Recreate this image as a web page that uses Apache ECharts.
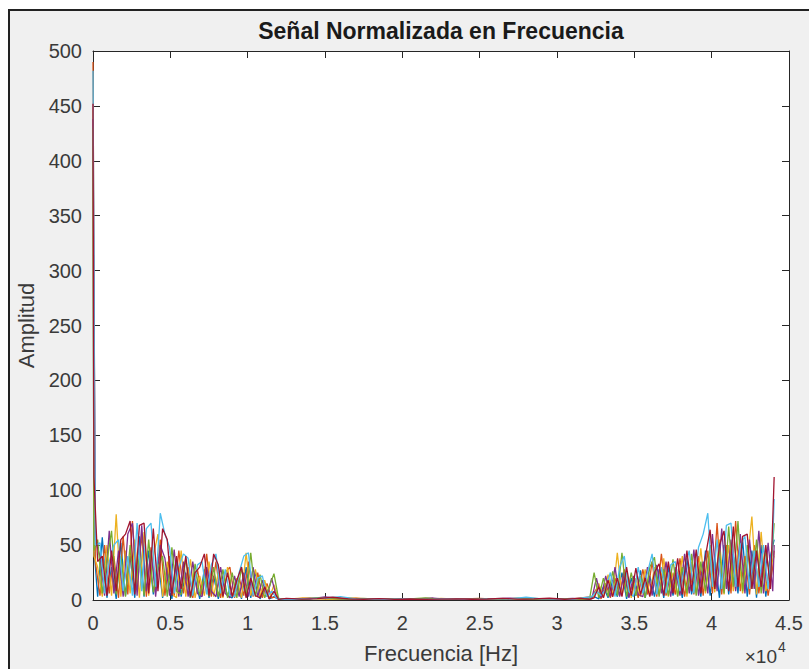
<!DOCTYPE html>
<html>
<head>
<meta charset="utf-8">
<script src="https://cdn.jsdelivr.net/npm/echarts@6/dist/echarts.min.js"></script>
<style>
  html, body { margin: 0; padding: 0; background: #ffffff; }
  #frame { position: absolute; left: 8px; top: 9px; width: 801px; height: 660px; background: #f0f0f0;
           border-top: 2px solid #222; border-left: 2px solid #222; box-sizing: border-box; }
  #chart { position: absolute; left: 0; top: 0; width: 809px; height: 669px; }
</style>
</head>
<body>
<div id="frame"></div>
<div id="chart"></div>
<script>
// ---------- DATA ----------
const titleText = 'Señal Normalizada en Frecuencia';
const xName = 'Frecuencia [Hz]';
const yName = 'Amplitud';
const xTicks = [0, 5000, 10000, 15000, 20000, 25000, 30000, 35000, 40000, 45000];
const yTicks = [0, 50, 100, 150, 200, 250, 300, 350, 400, 450, 500];

// frequency samples (Hz) for two interleaved sample grids
const freqLA = [0,60,300,600,900,1200,1500,1800,2100,2400,2700,3000,3300,3600,3900,4200,4500,4800,5100,5400,5700,6000,6300,6600,6900,7200,7500,7800,8100,8400,8700,9000,9300,9600,9900,10200,10500,10800,11100,11400,11700,12000];
const freqMA = [12500,13500,14500,15500,16500,17500,18500,19500,20500,21500,22500,23500,24500,25500,26500,27500,28500,29500,30500,31500];
const freqRA = [32100,32400,32700,33000,33300,33600,33900,34200,34500,34800,35100,35400,35700,36000,36300,36600,36900,37200,37500,37800,38100,38400,38700,39000,39300,39600,39900,40200,40500,40800,41100,41400,41700,42000,42300,42600,42900,43200,43500,43800,44040];
const freqLB = [0,150,450,750,1050,1350,1650,1950,2250,2550,2850,3150,3450,3750,4050,4350,4650,4950,5250,5550,5850,6150,6450,6750,7050,7350,7650,7950,8250,8550,8850,9150,9450,9750,10050,10350,10650,10950,11250,11550,11850,12150];
const freqMB = [13000,14000,15000,16000,17000,18000,19000,20000,21000,22000,23000,24000,25000,26000,27000,28000,29000,30000,31000];
const freqRB = [32250,32550,32850,33150,33450,33750,34050,34350,34650,34950,35250,35550,35850,36150,36450,36750,37050,37350,37650,37950,38250,38550,38850,39150,39450,39750,40050,40350,40650,40950,41250,41550,41850,42150,42450,42750,43050,43350,43650,43950,44040];

// series 1 (grid A)
const s1L = [420,48,3,57,2,30,1,52,4,40,2,58,3,45,5,38,2,30,1,36,3,25,2,20,1,28,2,22,1,18,4,2,15,1,30,2,26,1,10,1,3,0.5];
const s1M = [1.2,0.6,1.5,0.8,1,0.5,0.9,1.3,0.6,0.8,0.5,0.7,1,0.6,0.9,1.1,0.7,1,0.8,1.2];
const s1R = [1,3,1,12,2,18,3,25,1,20,4,27,2,22,3,28,2,30,4,25,2,38,5,30,3,45,4,40,2,50,5,42,6,55,3,45,2,50,3,40,55];
// series 2 (grid B)
const s2L = [490,35,4,50,6,40,2,58,5,72,10,60,3,48,8,55,4,40,3,45,6,30,2,28,4,42,3,35,2,25,30,2,20,4,35,3,25,2,15,2,3,0.5];
const s2M = [0.9,2,1,0.8,1.6,0.7,1,0.6,1.2,0.8,0.5,1,1.5,0.7,0.9,1.3,0.8,1.1,1];
const s2R = [3,10,1,15,2,20,4,28,3,18,2,28,5,35,3,42,4,25,5,38,3,30,5,40,4,45,6,70,5,50,6,72,8,40,5,50,6,35,4,30,45];
// series 3 (grid A)
const s3L = [446,40,30,3,50,4,78,3,45,6,55,2,62,4,40,60,3,35,6,2,45,3,37,2,22,4,35,3,25,2,30,3,20,2,43,4,28,3,18,1,14,0.5];
const s3M = [0.8,1.8,1,0.6,2.2,0.9,0.5,1,0.7,0.6,1.5,0.8,0.6,1,0.7,0.9,1.4,0.8,1.1,0.7];
const s3R = [0.5,3,15,2,23,3,43,4,25,2,20,3,28,4,30,5,38,3,25,4,40,3,35,6,47,6,40,7,55,5,50,8,45,6,35,76,5,62,8,30,40];
// series 4 (grid B)
const s4L = [438,55,40,4,63,6,45,3,60,70,4,68,8,45,3,50,38,4,46,3,35,3,35,6,3,30,8,3,30,6,2,22,3,25,3,30,3,18,3,20,3,0.5];
const s4M = [1.2,1,2.8,1.4,0.9,1.2,0.8,0.7,0.9,1.8,0.6,0.8,1,1.3,1.7,0.9,1.2,0.7,1.5];
const s4R = [1,20,2,22,3,30,3,25,2,22,5,3,30,4,32,6,35,3,30,4,42,6,46,4,35,6,60,8,65,10,55,8,60,6,55,10,63,6,52,8,50];
// series 5 (grid A)
const s5L = [430,45,55,6,35,63,5,40,3,50,8,40,4,55,7,30,40,3,48,8,5,38,2,33,4,22,3,30,3,28,2,25,2,30,3,43,3,23,2,12,24,1];
const s5M = [1,0.7,2,1.2,0.8,1.5,0.6,0.8,1,2,0.6,0.5,0.8,1.2,0.7,1.6,0.9,0.6,1.3,0.9];
const s5R = [0.5,25,2,20,3,26,4,43,3,25,4,22,2,30,39,3,28,4,37,3,30,6,42,4,35,8,50,10,45,6,67,12,72,8,50,10,55,6,45,20,70];
// series 6 (grid B)
const s6L = [482,50,52,6,35,50,55,8,40,4,70,8,65,70,12,79,60,48,6,30,42,38,4,32,35,5,32,42,6,28,4,3,25,40,43,4,20,22,3,8,2,0.5];
const s6M = [0.7,1.4,1.6,3,1,0.8,0.6,0.9,0.5,0.7,1,0.6,0.8,1.2,0.9,2.5,1,0.8,0.6];
const s6R = [3,8,4,10,25,3,30,40,8,3,30,6,25,42,5,30,6,32,35,8,30,45,6,48,60,79,12,55,10,68,70,12,50,58,10,45,12,50,10,55,92];
// series 7 (grid A)
const s7L = [452,112,35,40,4,45,8,55,60,72,5,68,70,6,65,8,65,55,4,40,10,40,3,25,30,42,4,42,32,3,25,3,18,30,2,20,4,2,12,1,8,0.5];
const s7M = [1.5,0.8,1.2,2.5,1,0.7,1.3,0.6,0.9,0.5,0.8,1.1,0.7,0.9,1.4,0.8,1,1.6,0.7,1.4];
const s7R = [0.5,2,12,2,18,3,20,3,30,4,29,5,20,3,25,33,4,35,6,38,5,45,8,46,6,40,64,10,50,63,8,67,12,58,60,10,45,12,50,10,112];

// ---------- BUILD ----------
const colors = ['#0072BD','#D95319','#EDB120','#7E2F8E','#77AC30','#4DBEEE','#A2142F'];
const gridA = freqLA.concat(freqMA, freqRA);
const gridB = freqLB.concat(freqMB, freqRB);
const seriesDefs = [
  [gridA, s1L.concat(s1M, s1R)],
  [gridB, s2L.concat(s2M, s2R)],
  [gridA, s3L.concat(s3M, s3R)],
  [gridB, s4L.concat(s4M, s4R)],
  [gridA, s5L.concat(s5M, s5R)],
  [gridB, s6L.concat(s6M, s6R)],
  [gridA, s7L.concat(s7M, s7R)]
];

const FONT = '"Liberation Sans", Arial, Helvetica, sans-serif';
const AXC = '#262626';
const LBL = '#3a3a3a';

const chart = echarts.init(document.getElementById('chart'), null, { renderer: 'svg', width: 809, height: 669 });

const axisCommon = {
  type: 'value',
  axisLine: { show: true, onZero: false, lineStyle: { color: AXC, width: 1 } },
  axisTick: { show: true, inside: true, length: 7, lineStyle: { color: AXC, width: 1 } },
  splitLine: { show: false }
};

const option = {
  animation: false,
  backgroundColor: 'transparent',
  grid: { left: 93, right: 20, top: 51, bottom: 68, show: true, backgroundColor: '#ffffff', borderWidth: 0 },
  xAxis: [
    Object.assign({}, axisCommon, {
      position: 'bottom', min: xTicks[0], max: xTicks[xTicks.length - 1], interval: xTicks[1] - xTicks[0],
      axisLabel: { show: true, margin: 13, fontSize: 20, color: LBL, fontFamily: FONT,
                   showMinLabel: true, showMaxLabel: true,
                   formatter: v => String(+(v / 10000).toFixed(2)) },
      name: xName, nameLocation: 'middle', nameGap: 42,
      nameTextStyle: { fontSize: 22, color: LBL, fontFamily: FONT }
    }),
    Object.assign({}, axisCommon, {
      position: 'top', min: xTicks[0], max: xTicks[xTicks.length - 1], interval: xTicks[1] - xTicks[0],
      axisLabel: { show: false }
    })
  ],
  yAxis: [
    Object.assign({}, axisCommon, {
      position: 'left', min: yTicks[0], max: yTicks[yTicks.length - 1], interval: yTicks[1] - yTicks[0],
      axisLabel: { show: true, margin: 11, fontSize: 20, color: LBL, fontFamily: FONT,
                   showMinLabel: true, showMaxLabel: true },
      name: yName, nameLocation: 'middle', nameGap: 55,
      nameTextStyle: { fontSize: 22, color: LBL, fontFamily: FONT }
    }),
    Object.assign({}, axisCommon, {
      position: 'right', min: yTicks[0], max: yTicks[yTicks.length - 1], interval: yTicks[1] - yTicks[0],
      axisLabel: { show: false }
    })
  ],
  series: seriesDefs.map((d, k) => ({
    type: 'line',
    xAxisIndex: 0, yAxisIndex: 0,
    showSymbol: false, symbol: 'none',
    smooth: false,
    lineStyle: { width: 1.3, color: colors[k] },
    itemStyle: { color: colors[k] },
    emphasis: { disabled: true },
    data: d[0].map((f, i) => [f, d[1][i]])
  })),
  graphic: [
    { type: 'text', x: 441, y: 31, style: { text: titleText, fontSize: 23, fontWeight: 'bold', fontFamily: FONT,
      fill: '#1a1a1a', textAlign: 'center', textVerticalAlign: 'middle' } },
    { type: 'text', x: 777, y: 656, style: { text: '×10', fontSize: 19, fontFamily: FONT,
      fill: LBL, textAlign: 'right', textVerticalAlign: 'middle' } },
    { type: 'text', x: 778, y: 647, style: { text: '4', fontSize: 14, fontFamily: FONT,
      fill: LBL, textAlign: 'left', textVerticalAlign: 'middle' } }
  ]
};
chart.setOption(option);
</script>
</body>
</html>
